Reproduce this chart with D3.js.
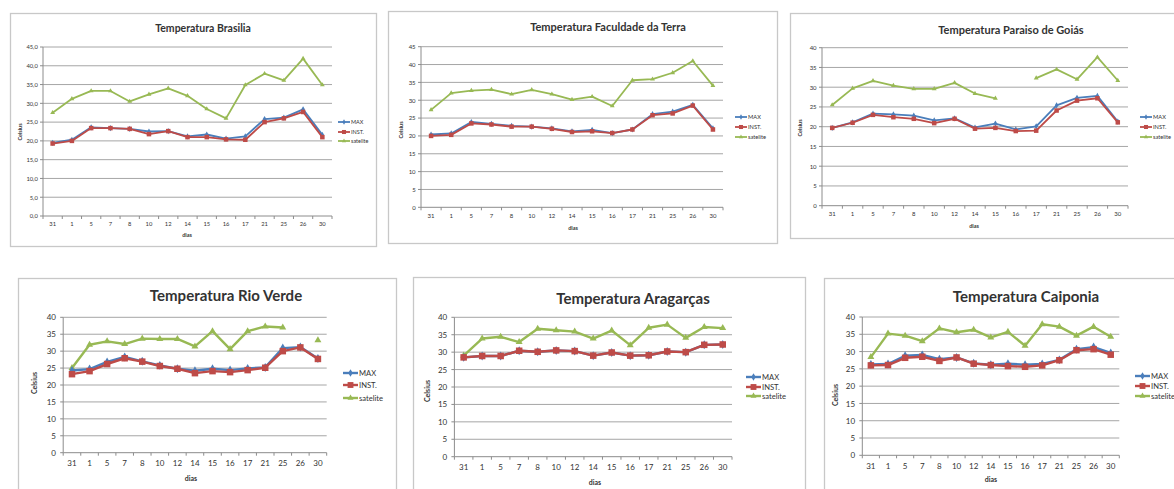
<!DOCTYPE html>
<html>
<head>
<meta charset="utf-8">
<script src="https://cdn.jsdelivr.net/npm/d3@7"></script>
<style>
  html, body { margin: 0; padding: 0; background: #ffffff; }
  svg { display: block; }
  text { font-family: Lato, "Open Sans", "Liberation Sans", sans-serif; fill: #333; }
</style>
</head>
<body>
<svg id="chart" width="1174" height="489"></svg>
<script>
// ---------- DATA ----------
const dias = ["31", "1", "5", "7", "8", "10", "12", "14", "15", "16", "17", "21", "25", "26", "30"];
const seriesNames = ["MAX", "INST.", "satelite"];

const brasiliaMax  = [19.5, 20.3, 23.6, 23.4, 23.2, 22.5, 22.6, 21.2, 21.7, 20.6, 21.2, 25.8, 26.2, 28.4, 21.6];
const brasiliaInst = [19.3, 20.0, 23.4, 23.4, 23.2, 21.8, 22.6, 21.0, 21.0, 20.4, 20.3, 25.0, 26.0, 27.7, 21.0];
const brasiliaSat  = [27.5, 31.2, 33.3, 33.3, 30.5, 32.4, 34.0, 32.0, 28.5, 26.0, 34.9, 37.9, 36.1, 41.9, 34.9];

const faculdadeMax  = [20.4, 20.7, 23.9, 23.4, 22.8, 22.6, 22.1, 21.3, 21.7, 20.8, 21.8, 26.1, 26.8, 28.7, 22.1];
const faculdadeInst = [20.0, 20.3, 23.5, 23.2, 22.6, 22.6, 22.0, 21.1, 21.3, 20.8, 21.8, 25.8, 26.3, 28.5, 21.8];
const faculdadeSat  = [27.3, 32.0, 32.7, 33.0, 31.7, 32.9, 31.7, 30.2, 31.0, 28.4, 35.6, 35.9, 37.7, 41.0, 34.1];

const paraisoMax  = [19.7, 21.1, 23.3, 23.1, 22.8, 21.6, 22.1, 19.8, 20.8, 19.3, 20.1, 25.4, 27.3, 27.8, 21.3];
const paraisoInst = [19.7, 21.0, 23.0, 22.4, 22.0, 20.9, 22.0, 19.5, 19.7, 18.9, 19.0, 24.1, 26.6, 27.2, 21.1];
const paraisoSat  = [25.5, 29.7, 31.6, 30.4, 29.6, 29.6, 31.1, 28.4, 27.2, null, 32.3, 34.5, 32.0, 37.6, 31.7];

const rioVerdeMax  = [24.3, 24.7, 26.8, 28.3, 27.0, 25.8, 24.8, 24.2, 24.8, 24.4, 24.9, 25.2, 30.9, 31.2, 27.8];
const rioVerdeInst = [23.2, 24.1, 26.2, 27.9, 26.9, 25.6, 24.8, 23.5, 24.1, 23.8, 24.4, 25.1, 30.0, 31.1, 27.7];
const rioVerdeSat  = [25.0, 31.9, 32.9, 32.1, 33.7, 33.6, 33.6, 31.4, 35.9, 30.6, 35.9, 37.3, 37.0, null, 33.2];

const aragarcasMax  = [28.5, 28.9, 28.9, 30.4, 30.1, 30.5, 30.3, 29.0, 29.9, 29.0, 29.1, 30.2, 30.0, 32.1, 32.2];
const aragarcasInst = [28.5, 28.9, 28.9, 30.4, 30.1, 30.5, 30.3, 29.0, 29.9, 29.0, 29.1, 30.2, 30.0, 32.1, 32.2];
const aragarcasSat  = [29.0, 33.9, 34.4, 32.9, 36.7, 36.3, 35.9, 33.9, 36.2, 32.0, 37.0, 37.9, 34.1, 37.2, 36.9];

const caiponiaMax  = [26.3, 26.4, 28.8, 29.0, 27.8, 28.3, 26.6, 26.2, 26.5, 26.2, 26.4, 27.6, 30.7, 31.3, 29.6];
const caiponiaInst = [26.0, 26.1, 28.2, 28.5, 27.3, 28.3, 26.5, 26.1, 25.8, 25.6, 26.0, 27.5, 30.4, 30.7, 29.1];
const caiponiaSat  = [28.4, 35.2, 34.6, 33.0, 36.7, 35.6, 36.3, 34.1, 35.7, 31.7, 37.9, 37.2, 34.6, 37.2, 34.3];

const ticks45 = [0, 5, 10, 15, 20, 25, 30, 35, 40, 45];
const ticks40 = [0, 5, 10, 15, 20, 25, 30, 35, 40];

// ---------- LAYOUT ----------
const colors = ["#4a7ebb", "#be4b48", "#98b954"];
const svg = d3.select("#chart");

const charts = [
  { title: "Temperatura Brasilia", max: brasiliaMax, inst: brasiliaInst, sat: brasiliaSat,
    ticks: ticks45, fmt: v => d3.format(".1f")(v).replace(".", ","),
    box: [10, 13, 376, 246], plot: [43, 47, 332, 216], titleXY: [203, 32], titleSize: 10.5,
    legX: 338, legY: [122, 132, 141], ylab: [22, 132], xlab: [187, 237], fs: 5.8, lw: 1.8, ms: 4.5, labFs: 5.5 },
  { title: "Temperatura Faculdade da Terra", max: faculdadeMax, inst: faculdadeInst, sat: faculdadeSat,
    ticks: ticks45, fmt: v => String(v),
    box: [388, 11, 777, 243], plot: [421, 46.7, 723, 207.3], titleXY: [608, 31], titleSize: 11,
    legX: 735, legY: [117, 127, 137], ylab: [403, 130], xlab: [573, 230], fs: 6, lw: 1.8, ms: 4.5, labFs: 5.5 },
  { title: "Temperatura Paraiso de Goiás", max: paraisoMax, inst: paraisoInst, sat: paraisoSat,
    ticks: ticks40, fmt: v => String(v),
    box: [790, 13, 1190, 238], plot: [822, 47.7, 1128, 205.7], titleXY: [1011, 34], titleSize: 11,
    legX: 1140, legY: [117, 127, 137], ylab: [802, 128], xlab: [974, 228], fs: 6, lw: 1.8, ms: 4.5, labFs: 5.5 },
  { title: "Temperatura Rio Verde", max: rioVerdeMax, inst: rioVerdeInst, sat: rioVerdeSat,
    ticks: ticks40, fmt: v => String(v),
    box: [18, 278, 396, 500], plot: [63.2, 317.3, 326.7, 452.7], titleXY: [226, 301], titleSize: 15,
    legX: 343, legY: [373, 385, 398], ylab: [37, 383], xlab: [191, 481], fs: 8, lw: 2.4, ms: 6.5, labFs: 7 },
  { title: "Temperatura Aragarças", max: aragarcasMax, inst: aragarcasInst, sat: aragarcasSat,
    ticks: ticks40, fmt: v => String(v),
    box: [413, 277, 805, 500], plot: [454.4, 317.3, 732, 456.7], titleXY: [633, 304], titleSize: 15,
    legX: 746, legY: [377, 387, 396], ylab: [430, 391], xlab: [595, 485], fs: 8, lw: 2.4, ms: 6.5, labFs: 7 },
  { title: "Temperatura Caiponia", max: caiponiaMax, inst: caiponiaInst, sat: caiponiaSat,
    ticks: ticks40, fmt: v => String(v),
    box: [824, 278, 1190, 500], plot: [862.3, 317, 1119.3, 455.3], titleXY: [1026, 302], titleSize: 15,
    legX: 1135, legY: [376, 386, 396], ylab: [838, 395], xlab: [991, 482], fs: 8, lw: 2.4, ms: 6.5, labFs: 7 }
];

function marker(g, type, x, y, s, color) {
  if (type === 0) {
    g.append("path").attr("d", d3.symbol(d3.symbolDiamond, s * s * 0.5)())
      .attr("transform", `translate(${x},${y})`).attr("fill", color);
  } else if (type === 1) {
    g.append("rect").attr("x", x - s / 2).attr("y", y - s / 2).attr("width", s).attr("height", s).attr("fill", color);
  } else {
    g.append("path").attr("d", d3.symbol(d3.symbolTriangle, s * s * 0.45)())
      .attr("transform", `translate(${x},${y})`).attr("fill", color);
  }
}

charts.forEach(c => {
  const g = svg.append("g");
  const [bx0, by0, bx1, by1] = c.box;
  g.append("rect").attr("x", bx0 + 0.5).attr("y", by0 + 0.5).attr("width", bx1 - bx0).attr("height", by1 - by0)
    .attr("fill", "#fff").attr("stroke", "#c8c8c8").attr("stroke-width", 1.3);

  const [px0, py0, px1, py1] = c.plot;
  const x = d3.scaleBand().domain(dias).range([px0, px1]).padding(0);
  const yMax = c.ticks[c.ticks.length - 1];
  const y = d3.scaleLinear().domain([0, yMax]).range([py1, py0]);

  const ya = g.append("g").attr("transform", `translate(${px0},0)`)
    .call(d3.axisLeft(y).tickValues(c.ticks).tickFormat(c.fmt).tickSize(0).tickPadding(c.fs * 0.9));
  ya.select(".domain").remove();
  ya.selectAll("text").attr("font-size", c.fs).attr("fill", "#404040");
  g.append("g").selectAll("line").data(c.ticks.filter(t => t > 0)).join("line")
    .attr("x1", px0).attr("x2", px1).attr("y1", d => y(d)).attr("y2", d => y(d))
    .attr("stroke", "#a6a6a6").attr("stroke-width", 1);
  g.append("line").attr("x1", px0).attr("x2", px0).attr("y1", py0).attr("y2", py1).attr("stroke", "#8c8c8c");
  g.append("g").selectAll("line").data(c.ticks).join("line")
    .attr("x1", px0 - 3).attr("x2", px0).attr("y1", d => y(d)).attr("y2", d => y(d)).attr("stroke", "#8c8c8c");

  const xa = g.append("g").attr("transform", `translate(0,${py1})`)
    .call(d3.axisBottom(x).tickSize(0).tickPadding(c.fs * 1.0));
  xa.select(".domain").remove();
  xa.selectAll("text").attr("font-size", c.fs).attr("fill", "#404040");
  g.append("line").attr("x1", px0).attr("x2", px1).attr("y1", py1).attr("y2", py1).attr("stroke", "#8c8c8c");
  const bounds = dias.map(d => x(d)).concat([x(dias[dias.length - 1]) + x.bandwidth()]);
  g.append("g").selectAll("line").data(bounds).join("line")
    .attr("x1", d => d).attr("x2", d => d).attr("y1", py1).attr("y2", py1 + 3).attr("stroke", "#8c8c8c");

  const all = [c.max, c.inst, c.sat];
  const order = [2, 0, 1];
  order.forEach(si => {
    const vals = all[si];
    const pts = dias.map((d, i) => ({ d, v: vals[i] }));
    const line = d3.line().defined(p => p.v != null)
      .x(p => x(p.d) + x.bandwidth() / 2).y(p => y(p.v));
    g.append("path").datum(pts).attr("d", line).attr("fill", "none")
      .attr("stroke", colors[si]).attr("stroke-width", c.lw).attr("stroke-linejoin", "round");
    const mg = g.append("g");
    pts.filter(p => p.v != null).forEach(p => {
      marker(mg, si, x(p.d) + x.bandwidth() / 2, y(p.v), si === 1 ? c.ms : c.ms * 1.05, colors[si]);
    });
  });

  g.append("text").attr("x", c.titleXY[0]).attr("y", c.titleXY[1]).attr("text-anchor", "middle")
    .attr("font-size", c.titleSize).attr("font-weight", "bold").attr("fill", "#000").text(c.title);
  g.append("text").attr("transform", `translate(${c.ylab[0]},${c.ylab[1]}) rotate(-90)`)
    .attr("text-anchor", "middle").attr("font-size", c.labFs).attr("font-weight", "bold").attr("fill", "#222").text("Celsius");
  g.append("text").attr("x", c.xlab[0]).attr("y", c.xlab[1]).attr("text-anchor", "middle")
    .attr("font-size", c.labFs).attr("font-weight", "bold").attr("fill", "#222").text("dias");

  const lw = c.fs >= 8 ? 15 : 12;
  seriesNames.forEach((n, si) => {
    const ly = c.legY[si];
    g.append("line").attr("x1", c.legX).attr("x2", c.legX + lw).attr("y1", ly).attr("y2", ly)
      .attr("stroke", colors[si]).attr("stroke-width", c.lw);
    marker(g, si, c.legX + lw / 2, ly, c.ms * 0.9, colors[si]);
    g.append("text").attr("x", c.legX + lw + 1).attr("y", ly).attr("dy", "0.35em")
      .attr("font-size", c.fs * 0.95).attr("fill", "#404040").text(n);
  });
});
</script>
</body>
</html>
